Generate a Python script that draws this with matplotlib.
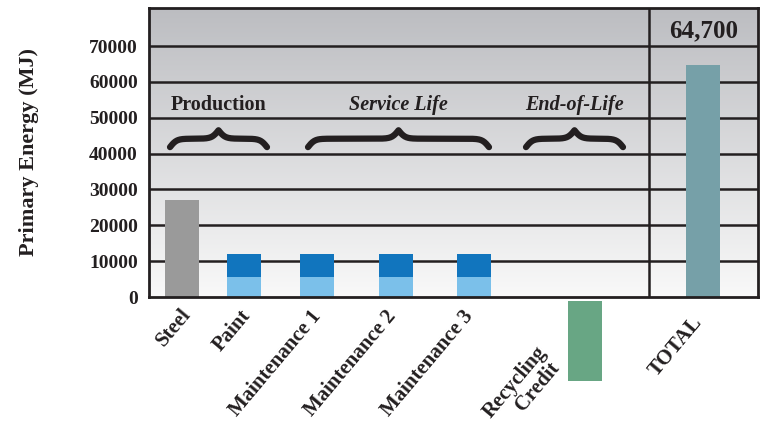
import matplotlib.pyplot as plt
import numpy as np

# datos
categories = ["Steel", "Paint", "Maintenance 1", "Maintenance 2", "Maintenance 3",
              "Recycling", "TOTAL"]
steel = 27000
paint_light = [5600, 5600, 5600, 5600]
paint_dark = [6400, 6400, 6400, 6400]
recycling = -22300
total = 64700
total_label = "64,700"
yticks = [0, 10000, 20000, 30000, 40000, 50000, 60000, 70000]
phases = ["Production", "Service Life", "End-of-Life"]

# posiciones (en unidades de pixel del eje)
xpos = [33, 95, 168, 247, 325, 436, 554]
bar_w = 34
divider_x = 500
phase_x = [(21, 118), (159, 340), (377, 474)]
# desplazamiento de las etiquetas (pixeles) respecto al centro de la barra
label_dx = [-2, -4, -7, -11, -12, -50, -12]
label_dy = [8, 9, 10, 10, 10, 45, 16]

plt.rcParams['font.family'] = ['Liberation Serif', 'DejaVu Serif']
plt.rcParams['font.weight'] = 'bold'
ink = '#231f20'

fig = plt.figure(figsize=(7.65, 4.29), dpi=100)
ax = fig.add_axes([149 / 765, 1 - 297 / 429, 609 / 765, 289 / 429])
ymax = 80600
ax.set_xlim(0, 609)
ax.set_ylim(0, ymax)

# fondo degradado
grad = np.linspace(0, 1, 256).reshape(-1, 1)
top = np.array([188, 189, 193]) / 255
bot = np.array([249, 249, 249]) / 255
img = bot + (top - bot) * grad
ax.imshow(img[:, None, :], extent=[0, 609, 0, ymax],
          origin='lower', aspect='auto', zorder=0)

# lineas de cuadricula
for y in yticks[1:]:
    ax.axhline(y, color=ink, lw=1.8, zorder=1)
ax.axvline(divider_x, color=ink, lw=1.8, zorder=1)

# barras
ax.bar(xpos[0], steel, width=bar_w, color='#9a9a9a', zorder=2)
ax.bar(xpos[1:5], paint_light, width=bar_w, color='#7bc0ea', zorder=2)
ax.bar(xpos[1:5], paint_dark, bottom=paint_light, width=bar_w, color='#1175be', zorder=2)
ax.bar(xpos[5], recycling, bottom=-1100, width=bar_w, color='#68a684', zorder=2,
       clip_on=False)
ax.bar(xpos[6], total, width=bar_w, color='#76a0a8', zorder=2)

ax.text((divider_x + 609) / 2, 74200, total_label, ha='center', va='center',
        fontsize=18, fontweight='bold', color=ink)


# llave horizontal
def brace(x0, x1, y, h):
    n = 201
    x = np.linspace(x0, x1, n)
    xh = x[:n // 2 + 1]
    beta = 0.3
    yh = (1 / (1 + np.exp(-beta * (xh - xh[0]))) +
          1 / (1 + np.exp(-beta * (xh - xh[-1]))))
    yy = np.concatenate((yh, yh[-2::-1]))
    ax.plot(x, y + (yy - 0.5) * h, color=ink, lw=4.5,
            solid_capstyle='round', zorder=3)


for (a, b), name in zip(phase_x, phases):
    style = 'normal' if name == "Production" else 'italic'
    ax.text((a + b) / 2, 53500, name, ha='center', va='center', fontsize=14.5,
            fontweight='bold', style=style, color=ink)
    brace(a, b, 41800, 4700)

# ejes
ax.set_yticks(yticks)
ax.set_yticklabels([str(v) for v in yticks], fontsize=14, fontweight='bold',
                   color=ink)
ax.tick_params(axis='y', length=0, pad=8)
ax.set_xticks([])
for s in ax.spines.values():
    s.set_linewidth(2)
    s.set_color(ink)

ax.set_ylabel("Primary Energy (MJ)", fontsize=16, fontweight='bold',
              color=ink, labelpad=36)

# etiquetas del eje x
for i, lab in enumerate(categories):
    ax.annotate(lab, xy=(xpos[i], 0), xycoords='data',
                xytext=(label_dx[i] * 0.72, -label_dy[i] * 0.72),
                textcoords='offset points', rotation=50, ha='right', va='top',
                rotation_mode='anchor', fontsize=15, fontweight='bold', color=ink,
                annotation_clip=False)
ax.annotate("Credit", xy=(xpos[5], 0), xycoords='data',
            xytext=(-37 * 0.72, -61 * 0.72), textcoords='offset points',
            rotation=50, ha='right', va='top', rotation_mode='anchor',
            fontsize=15, fontweight='bold', color=ink, annotation_clip=False)

fig.savefig("out.png", dpi=100)
